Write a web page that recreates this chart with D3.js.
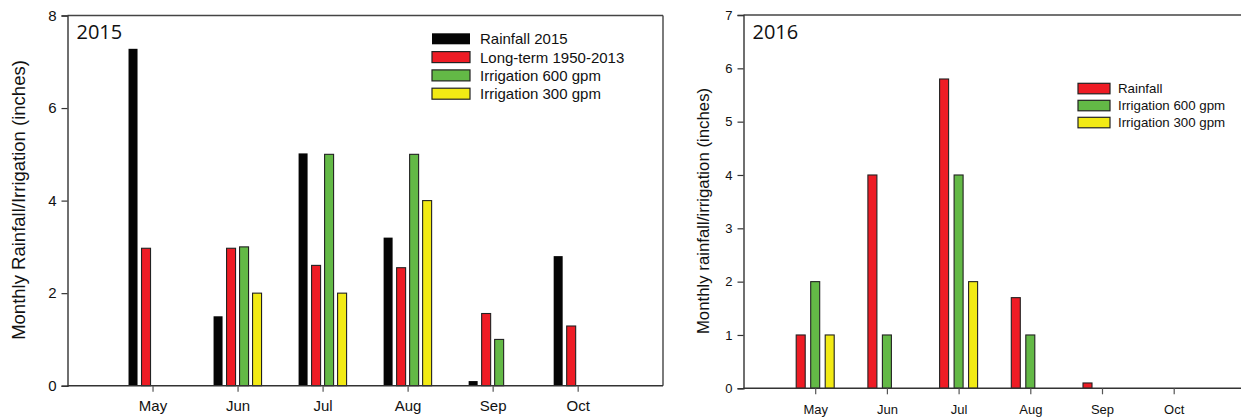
<!DOCTYPE html>
<html>
<head>
<meta charset="utf-8">
<script src="https://cdn.jsdelivr.net/npm/d3@7/dist/d3.min.js"></script>
<style>
  html, body { margin: 0; padding: 0; background: #fff; }
  svg { display: block; }
  text { font-family: "Liberation Sans", Arial, sans-serif; fill: #111; }
</style>
</head>
<body>
<svg id="chart" width="1241" height="420"></svg>
<script>
// ---- Data ----
const months = ["May", "Jun", "Jul", "Aug", "Sep", "Oct"];

// 2015 panel
const series2015 = ["Rainfall 2015", "Long-term 1950-2013", "Irrigation 600 gpm", "Irrigation 300 gpm"];
const rainfall2015 = [7.28, 1.5, 5.02, 3.2, 0.1, 2.8];
const longTerm = [2.97, 2.97, 2.6, 2.55, 1.56, 1.29];
const irr600_2015 = [0, 3.0, 5.0, 5.0, 1.0, 0];
const irr300_2015 = [0, 2.0, 2.0, 4.0, 0, 0];
const yTicks2015 = [0, 2, 4, 6, 8];

// 2016 panel
const series2016 = ["Rainfall", "Irrigation 600 gpm", "Irrigation 300 gpm"];
const rainfall2016 = [1.0, 4.0, 5.8, 1.7, 0.1, 0];
const irr600_2016 = [2.0, 1.0, 4.0, 1.0, 0, 0];
const irr300_2016 = [1.0, 0, 2.0, 0, 0, 0];
const yTicks2016 = [0, 1, 2, 3, 4, 5, 6, 7];

const colors2015 = ["#050505", "#ee1c25", "#63b946", "#f2ea14"];
const colors2016 = ["#ee1c25", "#63b946", "#f2ea14"];

const svg = d3.select("#chart");

function panel(opts) {
  const g = svg.append("g");
  const x = d3.scaleLinear().domain([-1, months.length]).range([opts.left, opts.right]);
  const y = d3.scaleLinear().domain([0, opts.ymax]).range([opts.bottom, opts.top]);
  const nS = opts.series.length;

  // frame top/right
  g.append("line").attr("x1", opts.left).attr("x2", opts.frameRight)
    .attr("y1", y(opts.ymax)).attr("y2", y(opts.ymax))
    .attr("stroke", "#444").attr("stroke-width", 1.4);
  if (opts.frameRight < 1241) {
    g.append("line").attr("x1", opts.frameRight).attr("x2", opts.frameRight)
      .attr("y1", y(opts.ymax)).attr("y2", y(0))
      .attr("stroke", "#444").attr("stroke-width", 1.4);
  }

  // bars
  opts.series.forEach((s, si) => {
    const off = (si - (nS - 1) / 2) * opts.pitch;
    const data = opts.values[si].map((v, i) => ({ i, v })).filter(d => d.v > 0);
    g.append("g").selectAll("rect").data(data).join("rect")
      .attr("x", d => x(d.i) + off - opts.barW / 2)
      .attr("width", opts.barW)
      .attr("y", d => y(d.v))
      .attr("height", d => y(0) - y(d.v))
      .attr("fill", opts.colors[si])
      .attr("stroke", opts.colors[si] === "#050505" ? "none" : "#222")
      .attr("stroke-width", 1.1);
  });

  // axes
  const yAxis = d3.axisLeft(y).tickValues(opts.yTicks).tickSize(6).tickPadding(5)
    .tickFormat(d3.format("d"));
  const ya = g.append("g").attr("transform", `translate(${opts.left},0)`).call(yAxis);
  ya.select(".domain").attr("stroke", "#333").attr("stroke-width", 1.4);
  ya.selectAll(".tick line").attr("stroke", "#333").attr("stroke-width", 1.2);
  ya.selectAll(".tick text").attr("font-size", opts.tickFont).attr("fill", "#111")
    .style("font-family", "'Liberation Sans', Arial, sans-serif");

  const xa = g.append("g").attr("transform", `translate(0,${y(0)})`);
  xa.append("line").attr("x1", opts.left).attr("x2", opts.frameRight)
    .attr("stroke", "#333").attr("stroke-width", 1.4);
  const xAxis = d3.axisBottom(x).tickValues(d3.range(months.length))
    .tickFormat(i => months[i]).tickSize(6).tickPadding(opts.xPad);
  const xg = xa.append("g").call(xAxis);
  xg.select(".domain").remove();
  xg.selectAll(".tick line").attr("stroke", "#555").attr("stroke-width", 1.2);
  xg.selectAll(".tick text").attr("font-size", opts.tickFont).attr("fill", "#111")
    .style("font-family", "'Liberation Sans', Arial, sans-serif");

  // year label
  g.append("text").attr("x", opts.left + 9).attr("y", 39)
    .attr("font-size", 20).style("font-family", "'Open Sans', sans-serif")
    .attr("fill", "#222").text(opts.year);

  // y label
  g.append("text")
    .attr("transform", `translate(${opts.ylabX},${opts.ylabY}) rotate(-90)`)
    .attr("text-anchor", "middle").attr("font-size", opts.ylabFont)
    .text(opts.ylabel);

  // legend
  const lg = g.append("g");
  opts.series.forEach((s, si) => {
    const yy = opts.legY + si * opts.legPitch;
    lg.append("rect").attr("x", opts.legX).attr("y", yy)
      .attr("width", opts.swW).attr("height", opts.swH)
      .attr("fill", opts.colors[si])
      .attr("stroke", opts.colors[si] === "#050505" ? "none" : "#222")
      .attr("stroke-width", 1.2);
    lg.append("text").attr("x", opts.legTextX).attr("y", yy + opts.swH / 2)
      .attr("dy", "0.36em").attr("font-size", opts.legFont).text(s);
  });
}

panel({
  left: 67.5, right: 662.7, frameRight: 663, top: 15.5, bottom: 385.7, ymax: 8,
  series: series2015, values: [rainfall2015, longTerm, irr600_2015, irr300_2015],
  colors: colors2015, yTicks: yTicks2015, pitch: 13, barW: 9,
  tickFont: 15, xPad: 9, year: "2015",
  ylabel: "Monthly Rainfall/Irrigation (inches)", ylabX: 25, ylabY: 200, ylabFont: 18.5,
  legX: 432, legY: 33.3, legPitch: 18.3, swW: 38, swH: 11, legTextX: 480, legFont: 15
});

panel({
  left: 743.5, right: 1245.4, frameRight: 1241, top: 15, bottom: 388.3, ymax: 7,
  series: series2016, values: [rainfall2016, irr600_2016, irr300_2016],
  colors: colors2016, yTicks: yTicks2016, pitch: 14.5, barW: 9,
  tickFont: 13, xPad: 10, year: "2016",
  ylabel: "Monthly rainfall/irrigation (inches)", ylabX: 709, ylabY: 211, ylabFont: 16.8,
  legX: 1078, legY: 83.3, legPitch: 17, swW: 32, swH: 10.5, legTextX: 1118, legFont: 13.3
});
</script>
</body>
</html>
